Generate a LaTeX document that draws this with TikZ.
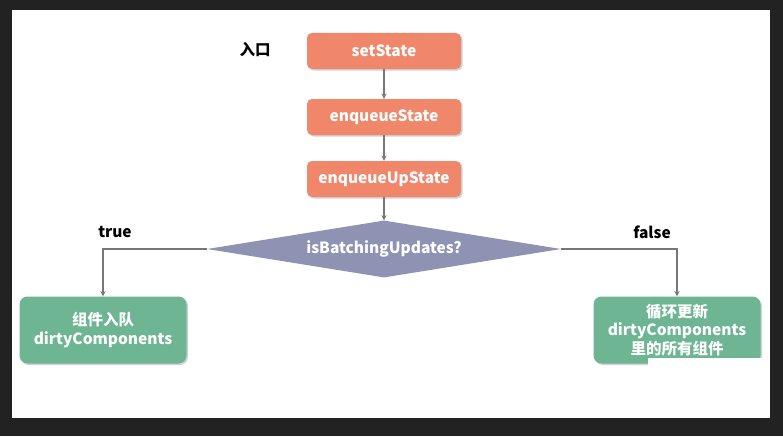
\documentclass[tikz,border=0pt]{standalone}
\usepackage{fontspec}
\setmainfont{Noto Sans CJK SC}
\usetikzlibrary{shapes.geometric,shadows}
\definecolor{stepred}{HTML}{F0866A}
\definecolor{resgreen}{HTML}{6DB593}
\definecolor{testblue}{HTML}{8E93B3}
\definecolor{linegray}{HTML}{777777}
\definecolor{framedark}{HTML}{222222}
\tikzset{
  stepbox/.style={fill=stepred,text=white,rounded corners=5pt,minimum width=154pt,minimum height=36pt,
    drop shadow={shadow xshift=1.5pt,shadow yshift=-1.5pt,opacity=.35}},
  resbox/.style={fill=resgreen,text=white,rounded corners=8pt,minimum width=167pt,minimum height=67pt,
    align=center,font=\fontsize{15.5}{18.5}\selectfont\bfseries,
    drop shadow={shadow xshift=1.5pt,shadow yshift=-1.5pt,opacity=.35}},
  testbox/.style={diamond,fill=testblue,text=white,aspect=6,inner sep=0pt,minimum width=354pt,minimum height=57pt},
  flow/.style={->,draw=linegray,line width=1.3pt},
  tag/.style={text=black}
}
\begin{document}
\begin{tikzpicture}[x=1pt,y=-1pt,>=stealth,font=\fontsize{15.5}{18}\selectfont\bfseries]
\fill[framedark] (0,0) rectangle (783,436);
\fill[white] (12,10) rectangle (770,418);
\node[tag] (entry) at (255,50) {入口};
\node[stepbox] (set) at (384,51) {setState};
\node[stepbox] (enq) at (384,117) {enqueueState};
\node[stepbox] (upd) at (384,179) {enqueueUpState};
\node[testbox] (batch) at (384,249) {isBatchingUpdates?};
\node[resbox] (queue) at (103,330) {组件入队\\dirtyComponents};
\node[resbox] (loop) at (677,330) {循环更新\\dirtyComponents\\里的所有组件};
\fill[white] (648,358) rectangle (763,369);
\node[tag] (yes) at (115,232) {true};
\node[tag] (no) at (652,232) {false};
\draw[flow] (set) -- (enq);
\draw[flow] (enq) -- (upd);
\draw[flow] (upd) -- (batch);
\draw[flow] (batch.west) -| (queue.north);
\draw[flow] (batch.east) -| (loop.north);
\end{tikzpicture}
\end{document}
